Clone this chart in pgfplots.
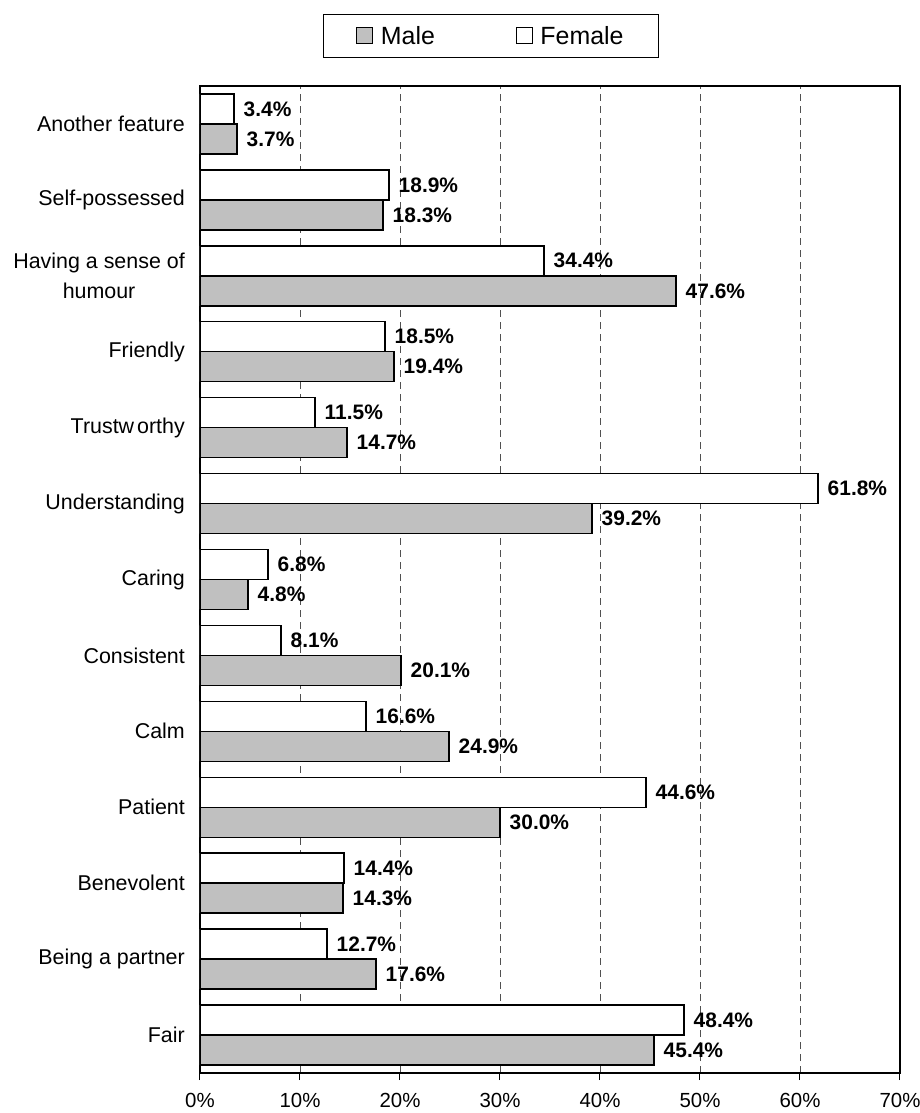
\documentclass[border=0pt]{standalone}
\usepackage{pgfplots}
\pgfplotsset{compat=1.18}
\usepackage{pgfplotstable}
\usepackage{fontspec}
\setmainfont{Liberation Sans}
\definecolor{malegray}{RGB}{192,192,192}
\definecolor{gridgray}{RGB}{80,80,80}

\pgfplotstableread{
y male female
0 45.4 48.4
1 17.6 12.7
2 14.3 14.4
3 30.0 44.6
4 24.9 16.6
5 20.1 8.1
6 4.8 6.8
7 39.2 61.8
8 14.7 11.5
9 19.4 18.5
10 47.6 34.4
11 18.3 18.9
12 3.7 3.4
}\data

\begin{document}
\begin{tikzpicture}
\begin{axis}[
  scale only axis, width=700bp, height=987bp,
  xbar, bar width=30bp,
  xmin=0, xmax=70, ymin=-0.5, ymax=12.5,
  xtick={0,10,...,70},
  xticklabel={\pgfmathprintnumber{\tick}\%},
  /pgf/number format/assume math mode=true,
  ytick={0,...,12},
  yticklabels={Fair, Being a partner, Benevolent, Patient, Calm, Consistent, Caring, Understanding, Trustw\kern3bp orthy, Friendly, {Having a sense of\\humour}, Self-possessed, Another feature},
  yticklabel style={align=center, font=\fontsize{21.5}{30}\selectfont, inner sep=0pt, xshift=-8bp},
  xticklabel style={font=\fontsize{20.5}{24}\selectfont, inner sep=0pt, yshift=-13bp},
  tick align=outside,
  xtick pos=bottom,
  ytick pos=left,
  major tick length=7bp,
  ytick style={draw=none},
  xtick style={line width=1bp, black},
  xmajorgrids,
  grid style={gridgray, line width=0.9bp, dash pattern=on 7bp off 5bp},
  axis line style={line width=1.5bp, black},
  legend columns=2,
  legend style={at={(0.4157,1.0507)}, anchor=center, draw=black, line width=0.9bp,
    font=\fontsize{25}{29}\selectfont, inner xsep=33bp, inner ysep=10bp,
    /tikz/every even column/.append style={column sep=79bp}},
  nodes near coords={\pgfmathprintnumber[fixed,fixed zerofill,precision=1]{\pgfplotspointmeta}\%},
  nodes near coords style={font=\bfseries\fontsize{21}{24}\selectfont, anchor=west, inner sep=0pt, xshift=9bp, black},
  point meta=x,
]
\addplot[fill=malegray, draw=black, line width=1.5bp, bar shift=-15bp,
  legend image code/.code={\draw[fill=malegray, draw=black, line width=1bp] (0bp,-8bp) rectangle (16bp,8bp); \path[draw=none,fill=none] (16bp,0bp) -- (22bp,0bp);}]
  table[x=male, y=y] {\data};
\addlegendentry{Male}
\addplot[fill=white, draw=black, line width=1.5bp, bar shift=15bp,
  legend image code/.code={\draw[fill=white, draw=black, line width=1bp] (0bp,-8bp) rectangle (16bp,8bp); \path[draw=none,fill=none] (16bp,0bp) -- (22bp,0bp);}]
  table[x=female, y=y] {\data};
\addlegendentry{Female}
\coordinate (ll) at (rel axis cs:0,0);
\coordinate (ur) at (rel axis cs:1,1);
\end{axis}
\pgfresetboundingbox
\path ([shift={(-200bp,-40bp)}]ll) rectangle ([shift={(20bp,86bp)}]ur);
\end{tikzpicture}
\end{document}
